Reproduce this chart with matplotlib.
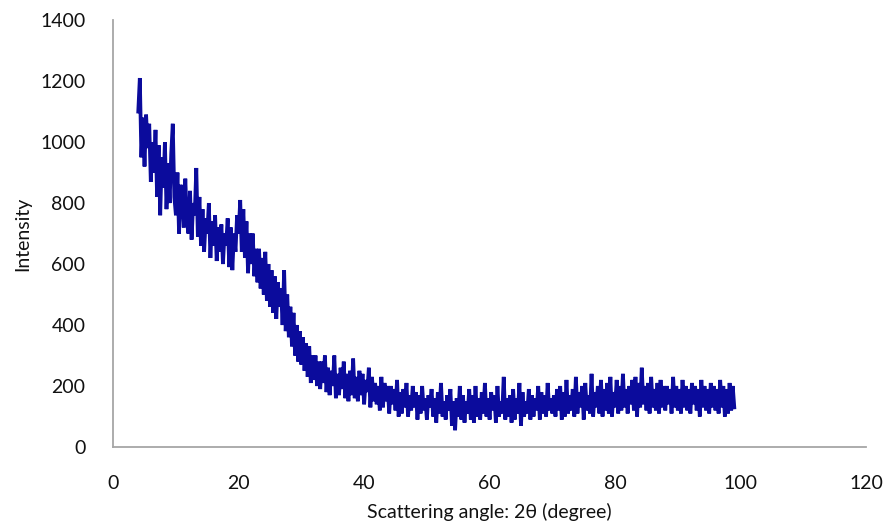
import matplotlib.pyplot as plt
import numpy as np

# scattering angle grid: 4.0 .. 99.0 deg, step 0.25
angle_start = 4.0
angle_step = 0.25

# intensity, one row per degree (deg, +.25, +.5, +.75)
intensity = [
    1100, 1210, 950, 1080,
    920, 1090, 980, 1060,
    870, 1000, 900, 1040,
    820, 990, 760, 950,
    850, 1000, 780, 930,
    800, 960, 1060, 820,
    760, 900, 700, 860,
    820, 720, 880, 740,
    700, 840, 680, 800,
    760, 915, 690, 820,
    660, 780, 640, 750,
    700, 800, 620, 740,
    660, 760, 610, 720,
    640, 730, 600, 700,
    660, 750, 590, 720,
    580, 700, 640, 760,
    700, 810, 640, 780,
    620, 740, 570, 700,
    600, 700, 560, 650,
    540, 650, 520, 620,
    500, 640, 480, 600,
    460, 580, 440, 560,
    420, 540, 460, 520,
    400, 580, 380, 500,
    360, 460, 330, 440,
    300, 400, 280, 380,
    270, 360, 250, 340,
    230, 330, 210, 300,
    220, 300, 200, 280,
    190, 280, 210, 300,
    180, 260, 170, 250,
    200, 300, 160, 240,
    170, 260, 190, 280,
    160, 240, 150, 250,
    170, 290, 160, 230,
    150, 250, 170, 240,
    140, 220, 180, 260,
    130, 230, 150, 210,
    140, 200, 120, 230,
    130, 210, 150, 200,
    110, 200, 140, 190,
    120, 220, 100, 180,
    110, 190, 130, 210,
    100, 170, 120, 200,
    130, 180, 90, 170,
    110, 200, 120, 160,
    90, 170, 130, 190,
    100, 160, 80, 180,
    110, 210, 100, 150,
    90, 170, 120, 190,
    70, 150, 55, 160,
    100, 200, 90, 170,
    80, 150, 110, 190,
    90, 170, 80, 200,
    100, 160, 90, 180,
    110, 210, 100, 160,
    90, 180, 120, 170,
    80, 200, 100, 150,
    110, 230, 90, 160,
    100, 170, 80, 190,
    90, 160, 110, 210,
    70, 180, 100, 150,
    110, 190, 90, 170,
    100, 160, 120, 200,
    90, 180, 110, 170,
    100, 210, 120, 160,
    110, 170, 100, 190,
    120, 200, 90, 180,
    100, 220, 110, 170,
    120, 190, 100, 230,
    110, 180, 130, 200,
    90, 210, 120, 170,
    110, 240, 100, 180,
    130, 200, 110, 220,
    100, 190, 120, 210,
    110, 230, 100, 180,
    130, 220, 110, 200,
    120, 240, 130, 190,
    110, 200, 140, 220,
    120, 230, 100, 210,
    130, 260, 140, 200,
    120, 210, 110, 230,
    130, 190, 120, 210,
    110, 220, 130, 200,
    120, 200, 140, 190,
    110, 230, 130, 200,
    120, 190, 110, 220,
    130, 200, 120, 190,
    110, 210, 140, 200,
    120, 190, 100, 220,
    130, 200, 120, 190,
    110, 210, 130, 200,
    120, 190, 110, 220,
    130, 200, 100, 190,
    110, 210, 120, 200,
    130,
]

x_ticks = [0, 20, 40, 60, 80, 100, 120]
y_ticks = [0, 200, 400, 600, 800, 1000, 1200, 1400]

angle = angle_start + angle_step * np.arange(len(intensity))

plt.rcParams['font.family'] = ['Lato', 'DejaVu Sans']

fig = plt.figure(figsize=(8.91, 5.29), dpi=100)
ax = fig.add_axes([0.127, 0.155, 0.845, 0.807])

ax.plot(angle, intensity, color='#0b0b9c', linewidth=2.7, solid_joinstyle='miter')

ax.set_xlim(0, 120)
ax.set_ylim(0, 1400)
ax.set_xticks(x_ticks)
ax.set_yticks(y_ticks)
ax.tick_params(length=0, labelsize=14, colors='#111111')
ax.tick_params(axis='y', pad=20)
ax.tick_params(axis='x', pad=20)

for side in ['top', 'right']:
    ax.spines[side].set_visible(False)
for side in ['left', 'bottom']:
    ax.spines[side].set_color('#a6a6a6')
    ax.spines[side].set_linewidth(1.3)

ax.set_xlabel('Scattering angle: 2θ (degree)', fontsize=14, color='#111111', labelpad=8)
ax.set_ylabel('Intensity', fontsize=14, color='#111111', labelpad=6)

fig.savefig('out.png', dpi=100)
